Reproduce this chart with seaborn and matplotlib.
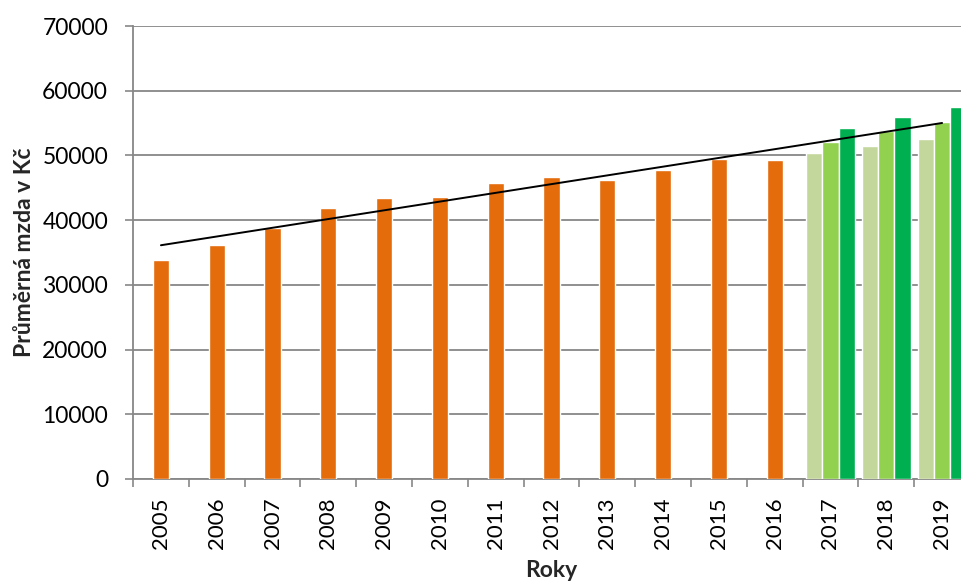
import numpy as np
import pandas as pd
import matplotlib
matplotlib.use("Agg")
import matplotlib.pyplot as plt
import seaborn as sns

# Average monthly wage (CZK) by year
years = [str(y) for y in range(2005, 2020)]
hist_years = years[:12]            # 2005-2016, actual values
hist_wage = [33800, 36200, 38800, 41800, 43400, 43500,
             45700, 46700, 46200, 47700, 49500, 49300]

# 2017-2019: three variants per year
fc_years = years[12:]
fc_series = ["nízká", "střední", "vysoká"]
fc_low = [50400, 51500, 52600]
fc_mid = [52100, 53700, 55100]
fc_high = [54300, 55900, 57500]

orange = "#E46C0A"
greens = ["#C3D69B", "#92D050", "#00B050"]
grid_gray = "#878787"

sns.set_style("white")
plt.rcParams["font.family"] = ["Lato", "DejaVu Sans"]

fig = plt.figure(figsize=(9.62, 5.87), dpi=100)
ax = fig.add_axes([0.1383, 0.184, 0.870, 0.7717])

hist_df = pd.DataFrame({"rok": hist_years, "mzda": hist_wage})
sns.barplot(data=hist_df, x="rok", y="mzda", order=years, color=orange,
            width=0.29, saturation=1, ax=ax, zorder=3)

fc_df = pd.DataFrame({
    "rok": fc_years * 3,
    "varianta": np.repeat(fc_series, len(fc_years)),
    "mzda": fc_low + fc_mid + fc_high,
})
sns.barplot(data=fc_df, x="rok", y="mzda", hue="varianta", order=years,
            hue_order=fc_series, palette=greens, width=0.87, gap=0,
            saturation=1, legend=False, ax=ax, zorder=3)

# Linear trend over actual values followed by the middle variant
trend_basis = hist_wage + fc_mid
sns.regplot(x=np.arange(len(years)), y=np.array(trend_basis, dtype=float),
            scatter=False, ci=None, truncate=True, color="black",
            line_kws={"lw": 1.4, "zorder": 4}, ax=ax)

ax.set_xlim(-0.5, len(years) - 0.5)
ax.set_ylim(0, 70000)
ax.set_yticks(np.arange(0, 70001, 10000))
ax.set_yticklabels([str(v) for v in range(0, 70001, 10000)])
ax.set_xticks(np.arange(len(years)))
ax.set_xticklabels(years, rotation=90)
ax.set_xticks(np.arange(-0.5, len(years), 1), minor=True)

ax.grid(axis="y", color=grid_gray, lw=1.3, zorder=0)
ax.set_axisbelow(True)
for side in ["top", "right"]:
    ax.spines[side].set_visible(False)
for side in ["left", "bottom"]:
    ax.spines[side].set_color(grid_gray)
    ax.spines[side].set_linewidth(1.3)

ax.tick_params(axis="y", length=6, width=1.2, color=grid_gray, pad=12,
               labelsize=16.5, labelcolor="black", direction="out", left=True)
ax.tick_params(axis="x", which="major", length=0, pad=13, labelsize=16,
               labelcolor="black", bottom=True)
ax.tick_params(axis="x", which="minor", length=6, width=1.2,
               color=grid_gray, direction="out", bottom=True)

ax.set_xlabel("Roky", fontsize=16.5, fontweight="bold", labelpad=8)
ax.set_ylabel("Průměrná mzda v Kč", fontsize=16.5, fontweight="bold",
              labelpad=5)

fig.savefig("out.png", dpi=100)
